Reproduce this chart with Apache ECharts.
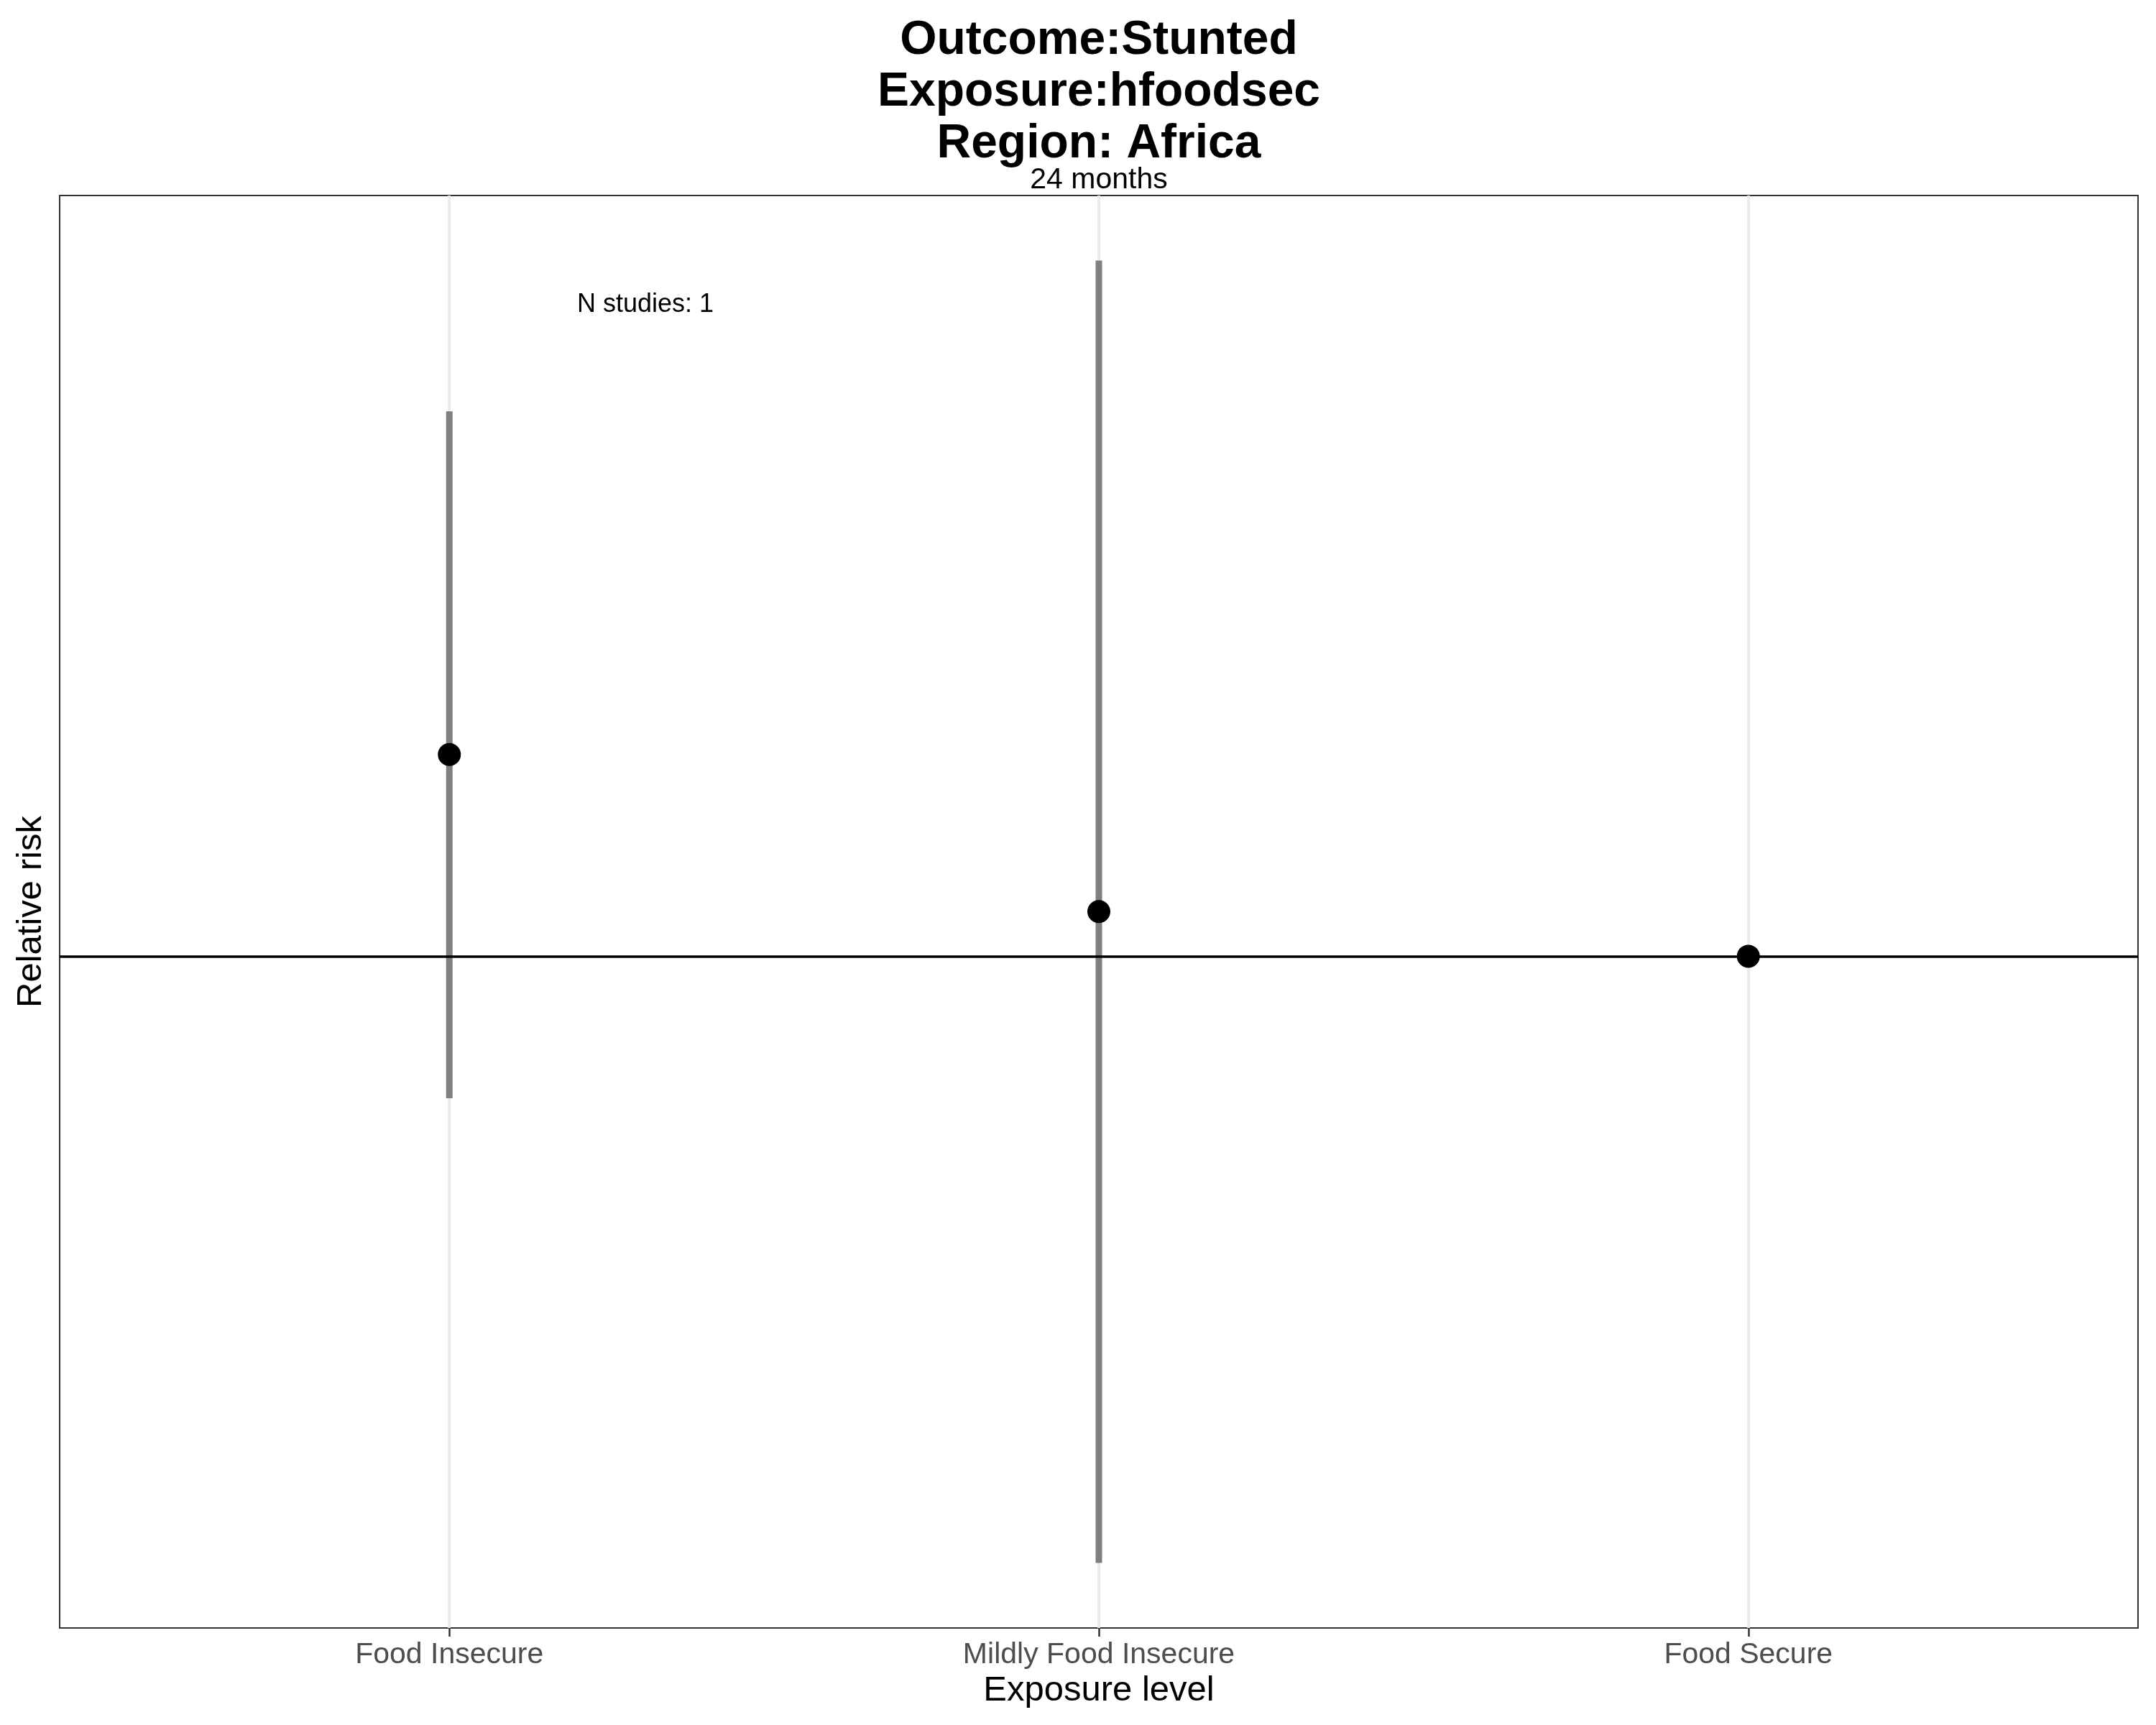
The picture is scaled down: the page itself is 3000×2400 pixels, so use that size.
<!DOCTYPE html>
<html>
<head>
<meta charset="utf-8">
<script src="https://cdn.jsdelivr.net/npm/echarts@6/dist/echarts.min.js"></script>
<style>html,body{margin:0;padding:0;background:#fff}#c{width:3000px;height:2400px}</style>
</head>
<body>
<div id="c"></div>
<script>
// ---- data ----
const categories = ['Food Insecure', 'Mildly Food Insecure', 'Food Secure'];
const rr = [1.50, 1.094, 1.00];
const ciLower = [0.7515, 0.2954, null];
const ciUpper = [2.99, 4.048, null];
const titleLines = ['Outcome:Stunted', 'Exposure:hfoodsec', 'Region: Africa'];
const subtitle = '24 months';
const annotation = 'N studies: 1';
const xPositions = [1, 2, 3];

const FONT = '"Liberation Sans", Arial, Helvetica, sans-serif';

// y range with 5% expansion on log scale (as ggplot)
const allVals = rr.concat(ciLower, ciUpper).filter(v => v != null);
const lmin = Math.log(Math.min(...allVals)), lmax = Math.log(Math.max(...allVals));
const pad = (lmax - lmin) * 0.05;
const yMin = Math.exp(lmin - pad), yMax = Math.exp(lmax + pad);

const pointData = rr.map((v, i) => [xPositions[i], v]);
const ciData = rr.map((v, i) => [xPositions[i], ciLower[i], ciUpper[i]]).filter(d => d[1] != null);

const chart = echarts.init(document.getElementById('c'));
chart.setOption({
  animation: false,
  backgroundColor: '#ffffff',
  grid: { left: 83, right: 25, top: 272, bottom: 135, show: true, borderColor: '#333333', borderWidth: 2, backgroundColor: 'transparent' },
  xAxis: {
    type: 'value', min: 0.4, max: 3.6,
    name: 'Exposure level', nameLocation: 'middle', nameGap: 58,
    nameTextStyle: { fontFamily: FONT, fontSize: 49, color: '#000', lineHeight: 49 },
    axisLine: { show: true, lineStyle: { color: '#333333', width: 2 } },
    axisTick: { show: true, length: 12, lineStyle: { color: '#333333', width: 2.5 }, customValues: xPositions },
    axisLabel: { show: true, margin: 17, fontFamily: FONT, fontSize: 41, lineHeight: 41, color: '#4d4d4d', customValues: xPositions,
      formatter: v => { const i = xPositions.indexOf(Math.round(v)); return (Math.abs(v - Math.round(v)) < 1e-6 && i >= 0) ? categories[i] : ''; } },
    splitLine: { show: false }
  },
  yAxis: {
    type: 'log', min: yMin, max: yMax,
    name: 'Relative risk', nameLocation: 'middle', nameGap: 15,
    nameTextStyle: { fontFamily: FONT, fontSize: 49, color: '#000', lineHeight: 49 },
    axisLine: { show: false }, axisTick: { show: false }, axisLabel: { show: false }, splitLine: { show: false }
  },
  graphic: [
    { type: 'text', x: 1529, y: 21, z: 10, style: { text: titleLines.join('\n'), font: 'bold 66px ' + FONT, fill: '#000', align: 'center', verticalAlign: 'top', lineHeight: 72 } },
    { type: 'text', x: 1529, y: 251, z: 10, style: { text: subtitle, font: '41px ' + FONT, fill: '#000', align: 'center', verticalAlign: 'middle' } },
    { type: 'text', x: 898, y: 424, z: 10, style: { text: annotation, font: '36px ' + FONT, fill: '#000', align: 'center', verticalAlign: 'middle' } }
  ],
  series: [
    {
      type: 'scatter', data: [], z: 1, silent: true,
      markLine: { z: 1, silent: true, symbol: 'none', label: { show: false }, lineStyle: { color: '#ebebeb', width: 4, type: 'solid' },
        data: xPositions.map(x => ({ xAxis: x })) }
    },
    {
      type: 'custom', z: 2, silent: true, data: ciData,
      renderItem: (params, api) => {
        const p1 = api.coord([api.value(0), api.value(1)]);
        const p2 = api.coord([api.value(0), api.value(2)]);
        return { type: 'rect', shape: { x: p1[0] - 4.5, y: p2[1], width: 9, height: p1[1] - p2[1] }, style: { fill: '#7f7f7f', stroke: null, lineWidth: 0 } };
      }
    },
    {
      type: 'scatter', data: [], z: 3, silent: true,
      markLine: { z: 3, silent: true, symbol: 'none', label: { show: false }, lineStyle: { color: '#000', width: 3.5, type: 'solid' },
        data: [{ yAxis: 1 }] }
    },
    {
      type: 'scatter', z: 4, silent: true, data: pointData, symbol: 'circle', symbolSize: 32,
      itemStyle: { color: '#000', opacity: 1 }
    }
  ]
});
</script>
</body>
</html>
